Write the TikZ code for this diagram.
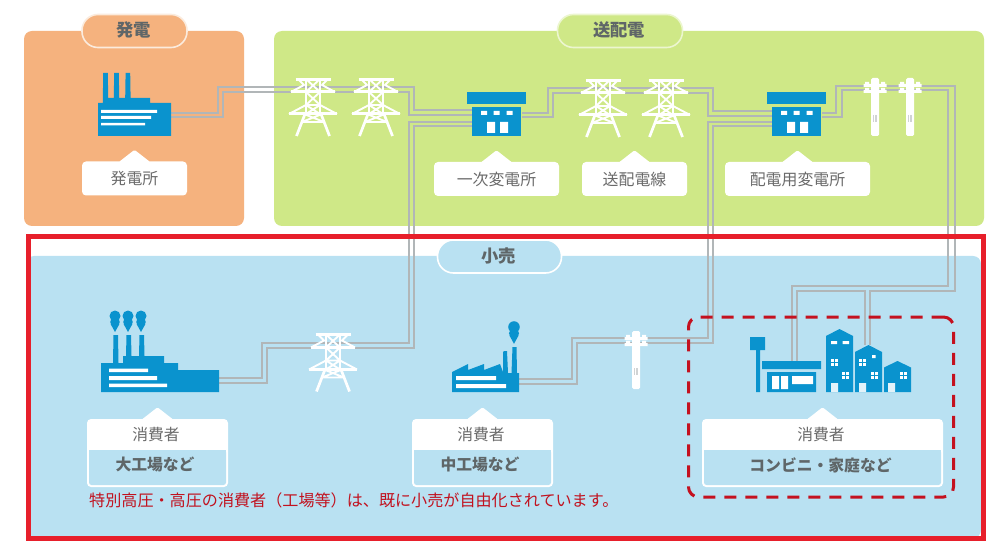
\documentclass[tikz,border=0pt]{standalone}
\usepackage{fontspec}
\setmainfont{Noto Sans CJK JP}
\definecolor{porange}{HTML}{F5B27E}
\definecolor{pgreen}{HTML}{CFE887}
\definecolor{pblue}{HTML}{B9E1F2}
\definecolor{iconblue}{HTML}{0A93CE}
\definecolor{wirec}{HTML}{B1B6B8}
\definecolor{txt}{HTML}{6A6A6A}
\definecolor{txtb}{HTML}{5F6668}
\definecolor{redbox}{HTML}{E71F2B}
\definecolor{reddash}{HTML}{C4111F}
\definecolor{redtxt}{HTML}{C1121F}
\definecolor{tabline}{HTML}{FBEBDD}
\tikzset{
  panel/.style={rectangle,rounded corners=8pt,inner sep=0pt,draw=none},
  tabbox/.style={rectangle,rounded corners=16pt,inner sep=0pt,line width=1.6pt},
  tabtext/.style={inner sep=0pt,font=\fontsize{17.3}{18}\selectfont\bfseries,text=txtb},
  labelbox/.style={rectangle,rounded corners=4pt,fill=white,inner sep=0pt,minimum height=34pt,font=\fontsize{15.9}{18}\selectfont,text=txt},
  consbox/.style={rectangle,rounded corners=4pt,fill=white,inner sep=0pt,minimum height=68pt},
  consin/.style={rectangle,rounded corners=2.5pt,fill=pblue,inner sep=0pt,minimum height=35pt},
  constext/.style={inner sep=0pt,font=\fontsize{15.8}{18}\selectfont\bfseries,text=txtb},
  constop/.style={inner sep=0pt,font=\fontsize{15.8}{18}\selectfont,text=txt},
  iconanchor/.style={rectangle,inner sep=0pt,draw=none},
  wire/.style={draw=wirec,line width=1.9pt,line join=miter},
  ib/.style={fill=iconblue,draw=none},
  iw/.style={fill=white,draw=none},
  tower/.pic={
    \draw[white,line width=3pt] (-17.5,1.2)--(17.5,1.2) (-22,14)--(22,14) (-24,36)--(24,36);
    \draw[white,line width=1.9pt,line join=round]
      (-22,14)--(-9,7)--(-15,1) (22,14)--(9,7)--(15,1)
      (-24,36)--(-7,27)--(7,27)--(24,36)
      (-7,1)--(-7,36) (7,1)--(7,36)
      (-7,1)--(7,14)--(-7,27)--(7,36) (7,1)--(-7,14)--(7,27)--(-7,36)
      (-11,44)--(11,44) (-9,36)--(11,44) (9,36)--(-11,44);
    \draw[white,line width=2.7pt] (-8,36)--(-16.5,58) (8,36)--(16.5,58);
  },
  pole/.pic={
    \fill[white,rounded corners=1.5pt] (-4,0) rectangle (4,58);
    \fill[white] (-11.5,6) rectangle (11.5,9) (-11.5,12) rectangle (11.5,15)
      (-10,3.8) rectangle (-6,6.5) (6,3.8) rectangle (10,6.5)
      (-10,9.8) rectangle (-6,12.5) (6,9.8) rectangle (10,12.5);
    \draw[wirec!60!white,line width=.4pt] (-1.6,37)--(-1.6,44) (0,37)--(0,44) (1.6,37)--(1.6,44);
  },
  smoke/.pic={
    \fill[iconblue] (0,0) circle (5.5) (0,6) circle (4.8);
    \fill[iconblue] (-4.4,8)--(0,16)--(4.4,8)--cycle;
  },
  substation/.pic={
    \fill[ib] (-29.5,-22) rectangle (29.5,-10);
    \fill[ib] (-24.5,-7) rectangle (24.5,22);
    \fill[iw] (-15.5,-3) rectangle (-9.5,1) (-3,-3) rectangle (3,1) (10,-3) rectangle (16,1);
    \fill[iw] (-9.5,8) rectangle (-1.5,19) (3.5,8) rectangle (11.5,19);
  },
  winpane/.pic={
    \fill[iw] (0,0) rectangle (7,7);
    \draw[iconblue,line width=.7pt] (3.5,0)--(3.5,7) (0,3.5)--(7,3.5);
  }
}
\begin{document}
\begin{tikzpicture}[x=1pt,y=-1pt]
\useasboundingbox (0,0) rectangle (1007,548);
\fill[white] (0,0) rectangle (1007,548);
% panels
\node[panel,fill=porange,minimum width=220pt,minimum height=195pt] (genpanel) at (134,128.5) {};
\node[panel,fill=pgreen,minimum width=710pt,minimum height=195pt] (trpanel) at (629,128.5) {};
\node[panel,fill=pblue,minimum width=955pt,minimum height=282pt] (retpanel) at (503.5,397) {};
% tabs
\node[tabbox,fill=porange,draw=tabline,minimum width=105pt,minimum height=33pt] (gentab) at (134.5,31) {};
\node[tabbox,fill=pgreen,draw=white!60!pgreen,minimum width=125pt,minimum height=33pt] (trtab) at (620,31) {};
\node[tabbox,fill=pblue,draw=white,minimum width=124pt,minimum height=33pt] (rettab) at (499.5,256.5) {};
\node[tabtext] (gentabt) at (133.5,30) {発電};
\node[tabtext] (trtabt) at (619,30) {送配電};
\node[tabtext] (rettabt) at (498.5,255.5) {小売};
% icon anchors
\node[iconanchor,minimum width=73pt,minimum height=63pt] (plant) at (134.5,104.5) {};
\node[iconanchor,minimum width=30pt,minimum height=58pt] (t1) at (313,107) {};
\node[iconanchor,minimum width=30pt,minimum height=58pt] (t2) at (376,107) {};
\node[iconanchor,minimum width=50pt,minimum height=44pt] (sub1) at (497,114) {};
\node[iconanchor,minimum width=30pt,minimum height=58pt] (t3) at (603,108) {};
\node[iconanchor,minimum width=30pt,minimum height=58pt] (t4) at (666,108) {};
\node[iconanchor,minimum width=50pt,minimum height=44pt] (sub2) at (797,114) {};
\node[iconanchor,minimum width=16pt,minimum height=58pt] (p1) at (875,107) {};
\node[iconanchor,minimum width=16pt,minimum height=58pt] (p2) at (910,107) {};
\node[iconanchor,minimum width=118pt,minimum height=57pt] (bigf) at (160,363.5) {};
\node[iconanchor,minimum width=30pt,minimum height=59pt] (t5) at (333,362.5) {};
\node[iconanchor,minimum width=67pt,minimum height=45pt] (midf) at (485.5,369.5) {};
\node[iconanchor,minimum width=16pt,minimum height=58pt] (p3) at (636,360) {};
\node[iconanchor,minimum width=59pt,minimum height=31pt] (store) at (791.5,376.5) {};
\node[iconanchor,minimum width=27pt,minimum height=47pt] (house) at (868.5,368.5) {};
% wires
\draw[wire] ([yshift=-8.5pt]plant.east) -- (218,113) -- (218,87) -- ([yshift=20pt]t1.center);
\draw[wire] ([yshift=-12.5pt]plant.east) -- (223,117) -- (223,92) -- ([yshift=15pt]t1.center);
\draw[wire] ([yshift=20pt]t1.center) -- ([yshift=20pt]t2.center);
\draw[wire] ([yshift=15pt]t1.center) -- ([yshift=15pt]t2.center);
\draw[wire] ([yshift=20pt]t2.center) -- (414,87) -- (414,110) -- ([yshift=4pt]sub1.west);
\draw[wire] ([yshift=15pt]t2.center) -- (409,92) -- (409,115) -- ([yshift=-1pt]sub1.west);
\draw[wire] ([yshift=-8pt]sub1.west) -- (409,122) -- (409,343) -- ([yshift=19.5pt]t5.center);
\draw[wire] ([yshift=-12pt]sub1.west) -- (414,126) -- (414,348) -- ([yshift=14.5pt]t5.center);
\draw[wire] ([yshift=19.5pt]t5.center) -- (262,343) -- (262,378) -- ([yshift=-14.5pt]bigf.east);
\draw[wire] ([yshift=14.5pt]t5.center) -- (267,348) -- (267,383) -- ([yshift=-19.5pt]bigf.east);
\draw[wire] ([yshift=1pt]sub1.east) -- (548,113) -- (548,88) -- ([yshift=20pt]t3.center);
\draw[wire] ([yshift=-3pt]sub1.east) -- (553,117) -- (553,93) -- ([yshift=15pt]t3.center);
\draw[wire] ([yshift=20pt]t3.center) -- ([yshift=20pt]t4.center);
\draw[wire] ([yshift=15pt]t3.center) -- ([yshift=15pt]t4.center);
\draw[wire] ([yshift=20pt]t4.center) -- (713,88) -- (713,111) -- ([yshift=3pt]sub2.west);
\draw[wire] ([yshift=15pt]t4.center) -- (708,93) -- (708,116) -- ([yshift=-2pt]sub2.west);
\draw[wire] ([yshift=-8pt]sub2.west) -- (708,122) -- (708,338) -- ([yshift=22pt]p3.center);
\draw[wire] ([yshift=-12pt]sub2.west) -- (713,126) -- (713,343) -- ([yshift=17pt]p3.center);
\draw[wire] ([yshift=22pt]p3.center) -- (572,338) -- (572,379) -- ([yshift=-9.5pt]midf.east);
\draw[wire] ([yshift=17pt]p3.center) -- (577,343) -- (577,384) -- ([yshift=-14.5pt]midf.east);
\draw[wire] ([yshift=1pt]sub2.east) -- (836,113) -- (836,86) -- ([yshift=21pt]p1.center);
\draw[wire] ([yshift=-3pt]sub2.east) -- (842,117) -- (842,90) -- ([yshift=17pt]p1.center);
\draw[wire] ([yshift=21pt]p1.center) -- ([yshift=21pt]p2.center);
\draw[wire] ([yshift=17pt]p1.center) -- ([yshift=17pt]p2.center);
\draw[wire] ([yshift=21pt]p2.center) -- (955,86) -- (955,291) -- (870,291) -- ([xshift=1.5pt]house.north);
\draw[wire] ([yshift=17pt]p2.center) -- (948,90) -- (948,286) -- (792,286) -- ([xshift=.5pt]store.north);
\draw[wire] ([xshift=-3.5pt]house.north) -- (865,291) -- (797,291) -- ([xshift=5.5pt]store.north);
% plant icon
\fill[ib] (98,136) -- (98,103) -- (102.8,103) -- (103.2,73) -- (107.8,73) -- (108.2,98) -- (113.8,98) -- (114.2,73) -- (118.8,73) -- (119.2,98) -- (125.2,98) -- (125.6,73) -- (130.2,73) -- (130.6,98) -- (150,98) -- (150,103) -- (171,103) -- (171,136) -- cycle;
\fill[iw] (101,110) rectangle (157,112.8) (101,116) rectangle (151,119) (101,122.8) rectangle (145,125.4);
% towers, poles, substations
\foreach \x/\y in {313/78,376/78,603/79,666/79,333/333.5} \pic at (\x,\y) {tower};
\foreach \x/\y in {875/78,910/78,636/331} \pic at (\x,\y) {pole};
\pic at (496.5,114) {substation};
\pic at (796.5,114) {substation};
% big factory
\fill[ib] (101,392) -- (101,363) -- (113,363) -- (113.5,335) -- (118,335) -- (118.5,363) -- (123,363) -- (123,356) -- (126,356) -- (126.5,335) -- (131,335) -- (131.5,356) -- (139,356) -- (139.5,335) -- (144,335) -- (144.5,356) -- (164,356) -- (164,363) -- (178,363) -- (178,370) -- (219,370) -- (219,392) -- cycle;
\fill[iw] (109,368.5) rectangle (148,372) (109,376) rectangle (157,380) (109,383.5) rectangle (167,387);
\foreach \x in {115,128,141} \pic at (\x,316) {smoke};
% medium factory
\fill[ib] (452,392) -- (452,372) -- (468,364) -- (468,370) -- (484,364) -- (484,370) -- (500,364) -- (503,372) -- (503,352) -- (504,351) -- (507,351) -- (508,373) -- (511.5,373) -- (512.5,347) -- (516.5,347) -- (517,373) -- (519,373) -- (519,392) -- cycle;
\fill[iw] (456,376) rectangle (496,380) (456,384) rectangle (506,388);
\pic[scale=1.05] at (514,327) {smoke};
% store
\fill[ib] (750,337) rectangle (765,350) (756,350) rectangle (760,392) (762,361) rectangle (821,369) (767,372) rectangle (816,392);
\fill[iw] (772,376) rectangle (779,389) (781,376) rectangle (788,389) (792,376) rectangle (813,384);
% houses
\fill[ib] (826,392) -- (826,336) -- (839.5,329) -- (853,336) -- (853,392) -- cycle;
\fill[ib] (855,392) -- (855,352) -- (868.5,345) -- (882,352) -- (882,392) -- cycle;
\fill[ib] (884,392) -- (884,367.5) -- (897.5,361) -- (911,367.5) -- (911,392) -- cycle;
\fill[pblue!40!white] (831,383) rectangle (838,392) (859,383) rectangle (866,392) (888,383) rectangle (895,392);
\fill[iw] (831,341) rectangle (837,344) (842.5,341) rectangle (849,344) (872,355) rectangle (875.5,358);
\foreach \x/\y in {831/359,842/372,859/359,871/372,900/372} \pic at (\x,\y) {winpane};
% label boxes
\node[labelbox,minimum width=105pt] (lgen) at (134.5,178.5) {発電所};
\node[labelbox,minimum width=125pt] (lsub1) at (496.5,179) {一次変電所};
\node[labelbox,minimum width=105pt] (lline) at (634.5,179) {送配電線};
\node[labelbox,minimum width=145pt] (lsub2) at (797.5,179) {配電用変電所};
\foreach \n in {lgen,lsub1,lline,lsub2}
  \fill[white,rounded corners=1.5pt] ([xshift=-16pt,yshift=-1pt]\n.north) -- ([yshift=11.5pt]\n.north) -- ([xshift=16pt,yshift=-1pt]\n.north) -- cycle;
% consumer boxes
\node[consbox,minimum width=141pt] (c1) at (157.5,453) {};
\node[consbox,minimum width=141pt] (c2) at (482.5,453) {};
\node[consbox,minimum width=241pt] (c3) at (822.5,453) {};
\foreach \n in {c1,c2,c3}
  \fill[white,rounded corners=1.5pt] ([xshift=-16pt,yshift=-1pt]\n.north) -- ([yshift=11.5pt]\n.north) -- ([xshift=16pt,yshift=-1pt]\n.north) -- cycle;
\node[consin,minimum width=137pt] (c1i) at (157.5,467.5) {};
\node[consin,minimum width=137pt] (c2i) at (482.5,467.5) {};
\node[consin,minimum width=237pt] (c3i) at (822.5,467.5) {};
\foreach \n in {c1i,c2i,c3i}
  \fill[pblue] (\n.north west) rectangle (\n.east);
\node[constext] (c1l) at (155,465) {大工場など};
\node[constext] (c2l) at (480,465) {中工場など};
\node[constext] (c3l) at (820.5,465) {コンビニ・家庭など};
\node[constop] (c1t) at (156,434.5) {消費者};
\node[constop] (c2t) at (481,434.5) {消費者};
\node[constop] (c3t) at (821,434.5) {消費者};
% note
\node[anchor=west,inner sep=0pt,text=redtxt,font=\fontsize{16.1}{18}\selectfont] (note) at (89,500) {特別高圧・高圧の消費者（工場等）は、既に小売が自由化されています。};
% frames
\node[rectangle,draw=redbox,line width=5pt,inner sep=0pt,minimum width=955pt,minimum height=302pt] (redframe) at (506,387.5) {};
\node[rectangle,draw=reddash,line width=3pt,inner sep=0pt,rounded corners=10pt,dash pattern=on 12pt off 9pt,minimum width=265pt,minimum height=180pt] (dashframe) at (821,407) {};
\end{tikzpicture}
\end{document}
